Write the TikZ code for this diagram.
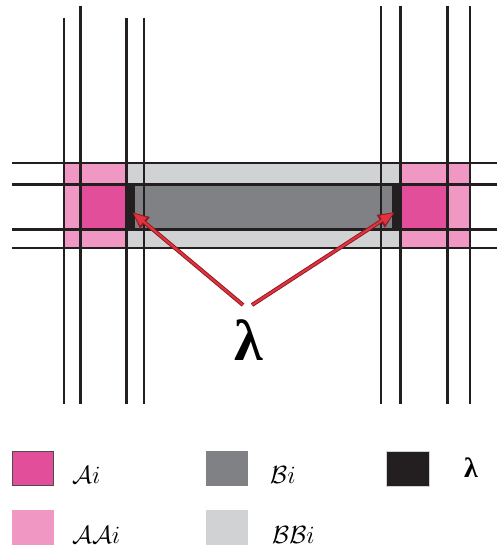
\documentclass[tikz,border=0pt]{standalone}
\usepackage{fontspec}
\newfontfamily\lamfont{Liberation Serif}
\usetikzlibrary{arrows.meta}
\definecolor{pinkdark}{HTML}{E34E9B}
\definecolor{pinklight}{HTML}{F097C3}
\definecolor{greydark}{HTML}{808185}
\definecolor{greylight}{HTML}{D1D2D4}
\definecolor{lamblack}{HTML}{231F20}
\definecolor{arrred}{HTML}{E2323F}
\definecolor{arrdark}{HTML}{8E1A22}
\tikzset{
  thickline/.style={line width=3pt, lamblack},
  thinline/.style={line width=1.3pt, lamblack},
  arrowunder/.style={line width=4pt, arrdark, -{Triangle[length=17pt,width=14pt]}},
  arrowover/.style={line width=2.1pt, arrred, shorten >=2pt, -{Triangle[length=13pt,width=10pt]}},
  legtext/.style={anchor=base west, inner sep=0pt, font=\fontsize{32}{38}\selectfont},
  lamtext/.style={inner sep=0pt, font=\lamfont\bfseries\fontsize{#1}{#1}\selectfont},
}
\begin{document}
\begin{tikzpicture}[x=1pt,y=-1pt]
\useasboundingbox (0,0) rectangle (497,548);
% fills
\fill[pinklight] (64,163) rectangle (126,248);
\fill[pinklight] (400,163) rectangle (470,248);
\fill[greylight] (126,163) rectangle (400,248);
\fill[pinkdark] (80,184) rectangle (126,229);
\fill[pinkdark] (400,184) rectangle (447,229);
\fill[greydark] (135,184) rectangle (392,229);
\fill[lamblack] (126,184) rectangle (135,229);
\fill[lamblack] (392,184) rectangle (400,229);
% horizontal lines
\draw[thinline] (12,163) -- (497,163);
\draw[thinline] (12,248) -- (497,248);
\draw[thickline] (12,184) -- (497,184);
\draw[thickline] (12,229) -- (497,229);
% vertical lines left group
\draw[thinline] (64,18) -- (64,404);
\draw[thickline] (80,6) -- (80,404);
\draw[thickline] (126,18) -- (126,404);
\draw[thinline] (144,18) -- (144,404);
% vertical lines right group
\draw[thinline] (381,6) -- (381,404);
\draw[thickline] (400,6) -- (400,404);
\draw[thickline] (447,6) -- (447,404);
\draw[thinline] (470,6) -- (470,404);
% lambda label and arrows
\node[lamtext=58] (lam) at (249,340) {λ};
\coordinate (s1) at (243,305);
\coordinate (t1) at (132,212);
\coordinate (s2) at (252,305);
\coordinate (t2) at (395,212);
\draw[arrowunder] (s1) -- (t1);
\draw[arrowover] (s1) -- (t1);
\draw[arrowunder] (s2) -- (t2);
\draw[arrowover] (s2) -- (t2);
% legend
\draw[fill=pinkdark, draw=lamblack!80, line width=1pt] (12.5,451.5) rectangle (53.5,485.5);
\node[legtext] (la) at (72,483) {$\mathcal{A}i$};
\fill[pinklight] (12,510) rectangle (54,545);
\node[legtext] (laa) at (72,543) {$\mathcal{A}\mathcal{A}i$};
\fill[greydark] (206,451) rectangle (248,486);
\node[legtext] (lb) at (270,483) {$\mathcal{B}i$};
\fill[greylight] (206,510) rectangle (248,545);
\node[legtext] (lbb) at (272,543) {$\mathcal{B}\mathcal{B}i$};
\draw[fill=lamblack, draw=greylight, line width=0.6pt] (386,451) rectangle (429,486);
\node[lamtext=28, anchor=base west] (ll) at (464,477) {λ};
\end{tikzpicture}
\end{document}
